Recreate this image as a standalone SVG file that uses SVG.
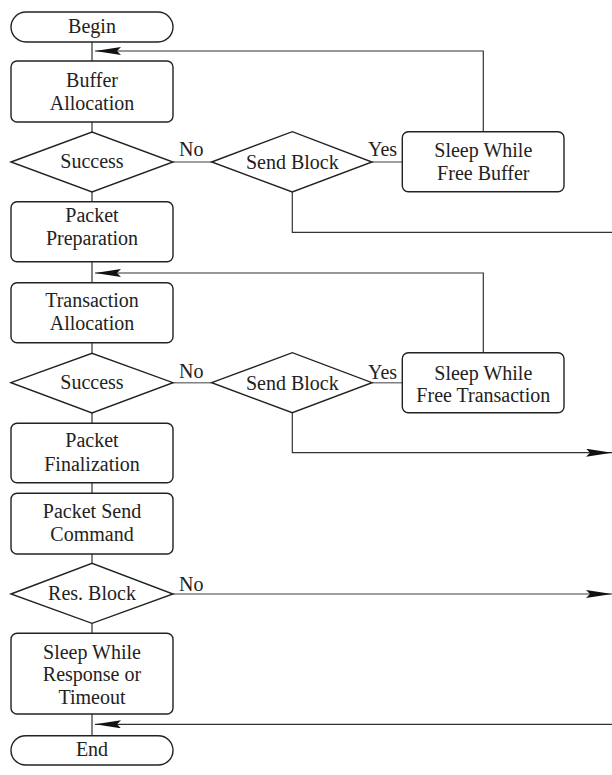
<svg xmlns="http://www.w3.org/2000/svg" width="612" height="775" viewBox="0 0 612 775">
<defs>
<marker id="ah" markerUnits="userSpaceOnUse" markerWidth="26" markerHeight="10" refX="26" refY="4" orient="auto">
<path d="M0,0 L26,4 L0,8 L4,4 Z" fill="#111"/>
</marker>
</defs>
<g id="connectors" fill="none">
<path stroke="#333" stroke-width="1.2" d="M92,42 V61 M92,122 V132 M92,192 V201.7 M92,261.7 V282.7 M92,342.7 V353.3 M92,413 V423.3 M92,482.7 V493.3 M92,554 V563.3 M92,623.3 V633.3 M92,714 V735.7"/>
<path stroke="#808080" stroke-width="1.4" d="M173,162 H211.7 M372,162 H402.3 M173,382.7 H211.7 M372,382.7 H402.3"/>
<g stroke="#333" stroke-width="1.2">
<path d="M483.3,131.7 V51 H95" marker-end="url(#ah)"/>
<path d="M292.3,192 V232.3 H612"/>
<path d="M483.3,352.7 V273 H95" marker-end="url(#ah)"/>
<path d="M292.3,412.7 V452.7 H612" marker-end="url(#ah)"/>
<path d="M612,724.3 H95" marker-end="url(#ah)"/>
</g>
<path stroke="#808080" stroke-width="1.4" d="M173,594 H612" marker-end="url(#ah)"/>
</g>
<g id="nodes" fill="#fff" stroke="#222" stroke-width="1.4">
<rect id="begin" x="11" y="12" width="162" height="30" rx="15"/>
<rect id="buffer-allocation" x="11" y="61" width="162" height="61" rx="6"/>
<polygon id="success1" points="11,162 92,132 173,162 92,192"/>
<polygon id="send-block1" points="211.7,162 292.3,131.7 372,162 292.3,192"/>
<rect id="sleep-free-buffer" x="402.3" y="131.7" width="161.7" height="60" rx="6"/>
<rect id="packet-preparation" x="11" y="201.7" width="162" height="60" rx="6"/>
<rect id="transaction-allocation" x="11" y="282.7" width="162" height="60" rx="6"/>
<polygon id="success2" points="11,382.7 92,353.3 173,382.7 92,413"/>
<polygon id="send-block2" points="211.7,382.7 292.3,352.7 372,382.7 292.3,412.7"/>
<rect id="sleep-free-transaction" x="402.3" y="352.7" width="161.7" height="60" rx="6"/>
<rect id="packet-finalization" x="11" y="423.3" width="162" height="59.4" rx="6"/>
<rect id="packet-send-command" x="11" y="493.3" width="162" height="60.7" rx="6"/>
<polygon id="res-block" points="11,594 92,563.3 173,594 92,623.3"/>
<rect id="sleep-response" x="11" y="633.3" width="162" height="80.7" rx="6"/>
<rect id="end" x="11" y="735.7" width="162" height="29.3" rx="14.6"/>
</g>
<g id="texts" font-family="Times New Roman, Liberation Serif, serif" font-size="20" fill="#222">
<text x="179" y="156">No</text>
<text x="368" y="156">Yes</text>
<text x="179" y="378">No</text>
<text x="368" y="379">Yes</text>
<text x="179" y="591">No</text>
<g text-anchor="middle">
<text x="92" y="33">Begin</text>
<text x="92" y="87">Buffer</text>
<text x="92" y="110">Allocation</text>
<text x="92" y="168">Success</text>
<text x="292.3" y="169">Send Block</text>
<text x="483.3" y="157">Sleep While</text>
<text x="483.3" y="180">Free Buffer</text>
<text x="92" y="222">Packet</text>
<text x="92" y="245">Preparation</text>
<text x="92" y="307">Transaction</text>
<text x="92" y="329.5">Allocation</text>
<text x="92" y="389">Success</text>
<text x="292.3" y="389.5">Send Block</text>
<text x="483.3" y="379.5">Sleep While</text>
<text x="483.3" y="402">Free Transaction</text>
<text x="92" y="447">Packet</text>
<text x="92" y="471">Finalization</text>
<text x="92" y="517.5">Packet Send</text>
<text x="92" y="541">Command</text>
<text x="92" y="600">Res. Block</text>
<text x="92" y="658.5">Sleep While</text>
<text x="92" y="681">Response or</text>
<text x="92" y="703.5">Timeout</text>
<text x="92" y="756">End</text>
</g>
</g>
</svg>
